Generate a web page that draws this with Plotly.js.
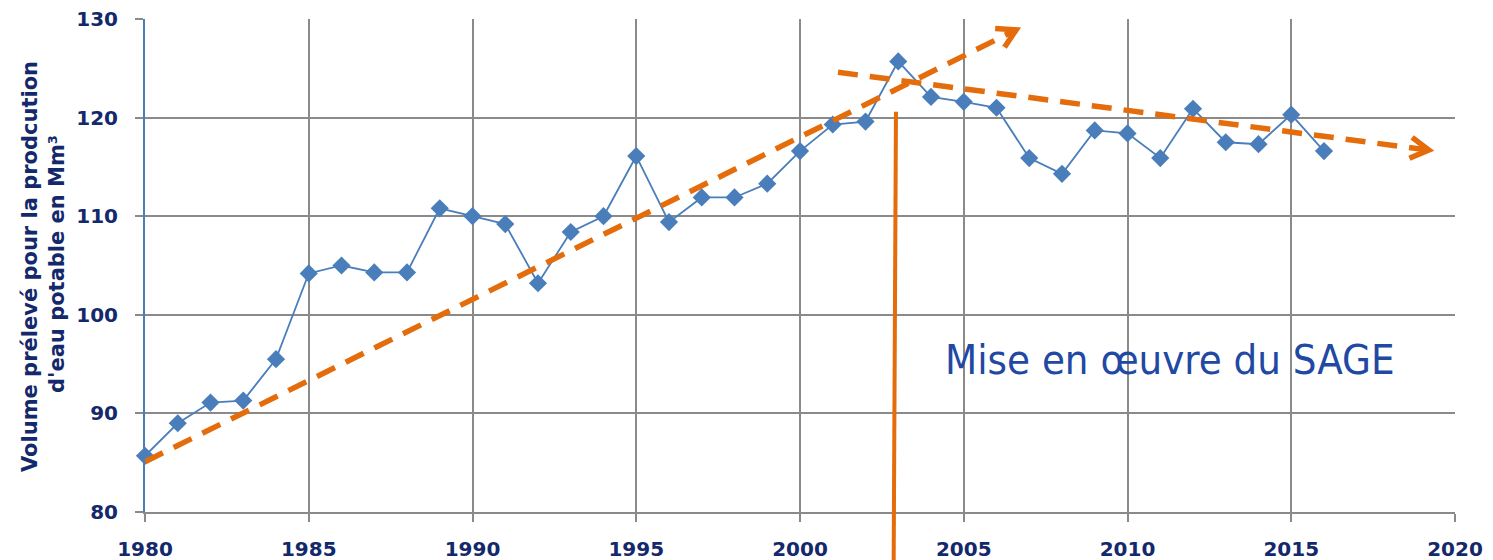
<!DOCTYPE html>
<html>
<head>
<meta charset="utf-8">
<script src="https://cdn.plot.ly/plotly-3.0.1.min.js"></script>
<style>html,body{margin:0;padding:0;background:#fff;}#chart{width:1493px;height:560px;}</style>
</head>
<body>
<div id="chart"></div>
<script>
// ---- data ----
const years = [1980,1981,1982,1983,1984,1985,1986,1987,1988,1989,1990,1991,1992,1993,1994,1995,1996,1997,1998,1999,2000,2001,2002,2003,2004,2005,2006,2007,2008,2009,2010,2011,2012,2013,2014,2015,2016];
const volumes = [85.7,89.0,91.1,91.3,95.5,104.2,105.0,104.3,104.3,110.8,110.0,109.2,103.2,108.4,110.0,116.1,109.4,111.9,111.9,113.3,116.6,119.3,119.6,125.7,122.1,121.6,121.0,115.9,114.3,118.7,118.4,115.9,120.9,117.5,117.3,120.3,116.6];
const xTicks = [1980,1985,1990,1995,2000,2005,2010,2015,2020];
const yTicks = [80,90,100,110,120,130];
// trend arrows (data units): [x0, y0, x1(tip), y1(tip)]
const trendUp = [1980, 85.1, 2006.6, 128.9];
const trendDown = [2001.16, 124.6, 2019.2, 116.7];
// SAGE implementation marker (year, top value)
const sageYearTop = 2002.93, sageYearBottom = 2002.86, sageTop = 120.6;
const sageLabel = 'Mise en œuvre du SAGE';
const yTitleLines = ['Volume prélevé pour la prodcution', 'd\'eau potable en Mm³'];

// ---- layout geometry ----
const W = 1493, H = 560;
const M = {l:145, r:38, t:19, b:48};
const xRange = [1980, 2020], yRange = [80, 130];
const plotW = W - M.l - M.r, plotH = H - M.t - M.b;
const pxPerX = plotW / (xRange[1]-xRange[0]);
const pxPerY = plotH / (yRange[1]-yRange[0]);

const orange = '#e46c0a';
const navy = '#13296b';
const grid = '#8a8a8a';

function chevron(seg) {
  const [x0,y0,x1,y1] = seg;
  let dx = (x1-x0)*pxPerX, dy = (y1-y0)*pxPerY;
  const L = Math.hypot(dx,dy); dx/=L; dy/=L;
  const arm = 21, ang = 30*Math.PI/180;
  const pts = [ang, -ang].map(a => {
    const c=Math.cos(a), s=Math.sin(a);
    const rx = -(dx*c - dy*s), ry = -(dx*s + dy*c);
    return [x1 + rx*arm/pxPerX, y1 + ry*arm/pxPerY];
  });
  return `M${pts[0][0]},${pts[0][1]} L${x1},${y1} L${pts[1][0]},${pts[1][1]}`;
}

const shapes = [];
[trendUp, trendDown].forEach(seg => {
  shapes.push({type:'line', xref:'x', yref:'y', x0:seg[0], y0:seg[1], x1:seg[2], y1:seg[3],
    line:{color:orange, width:5.5, dash:'20px,12px'}, layer:'above'});
  shapes.push({type:'path', xref:'x', yref:'y', path:chevron(seg),
    line:{color:orange, width:5.5}, layer:'above'});
});
const toPaperY = v => (v - yRange[0])/(yRange[1]-yRange[0]);
shapes.push({type:'line', xref:'x', yref:'paper', x0:sageYearBottom, y0:-(M.b+2)/plotH, x1:sageYearTop, y1:toPaperY(sageTop),
  line:{color:orange, width:4}, layer:'above'});

const annotations = [
  {xref:'x', yref:'y', x:2011.3, y:95.5, text:sageLabel, showarrow:false,
   font:{family:'DejaVu Sans Condensed, DejaVu Sans', size:41.5, color:'#2148a3'}, xanchor:'center', yanchor:'middle'},
  {xref:'paper', yref:'paper', x:(30-M.l)/plotW, y:1-(267-M.t)/plotH, text:'<b>'+yTitleLines[0]+'</b>', showarrow:false, textangle:-90,
   font:{family:'DejaVu Sans', size:21, color:navy}, xanchor:'center', yanchor:'middle'},
  {xref:'paper', yref:'paper', x:(57-M.l)/plotW, y:1-(264-M.t)/plotH, text:'<b>'+yTitleLines[1]+'</b>', showarrow:false, textangle:-90,
   font:{family:'DejaVu Sans', size:21, color:navy}, xanchor:'center', yanchor:'middle'}
];

const trace = {
  x: years, y: volumes, type:'scatter', mode:'lines+markers',
  line:{color:'#4a7ebb', width:1.8},
  marker:{symbol:'diamond', size:14, color:'#4a7ebb'},
  cliponaxis:false, hoverinfo:'x+y'
};

const tickFont = {family:'DejaVu Sans', size:20, color:navy, weight:'bold'};
const layout = {
  width:W, height:H, margin:M, showlegend:false,
  paper_bgcolor:'#ffffff', plot_bgcolor:'#ffffff',
  xaxis:{range:xRange, tickvals:xTicks, ticktext:xTicks.map(String), showgrid:true, gridcolor:grid, gridwidth:2,
    showline:true, linecolor:grid, linewidth:2, ticks:'outside', ticklen:8, tickcolor:grid, tickwidth:2,
    tickfont:tickFont, ticklabelstandoff:10, zeroline:false, mirror:false, fixedrange:true},
  yaxis:{range:yRange, tickvals:yTicks, ticktext:yTicks.map(String), showgrid:true, gridcolor:grid, gridwidth:2,
    showline:true, linecolor:'#4a7ebb', linewidth:2, ticks:'outside', ticklen:8, tickcolor:grid, tickwidth:2,
    tickfont:tickFont, ticklabelstandoff:13, zeroline:false, fixedrange:true},
  shapes: shapes,
  annotations: annotations
};
Plotly.newPlot('chart', [trace], layout, {displayModeBar:false, staticPlot:true});
</script>
</body>
</html>
